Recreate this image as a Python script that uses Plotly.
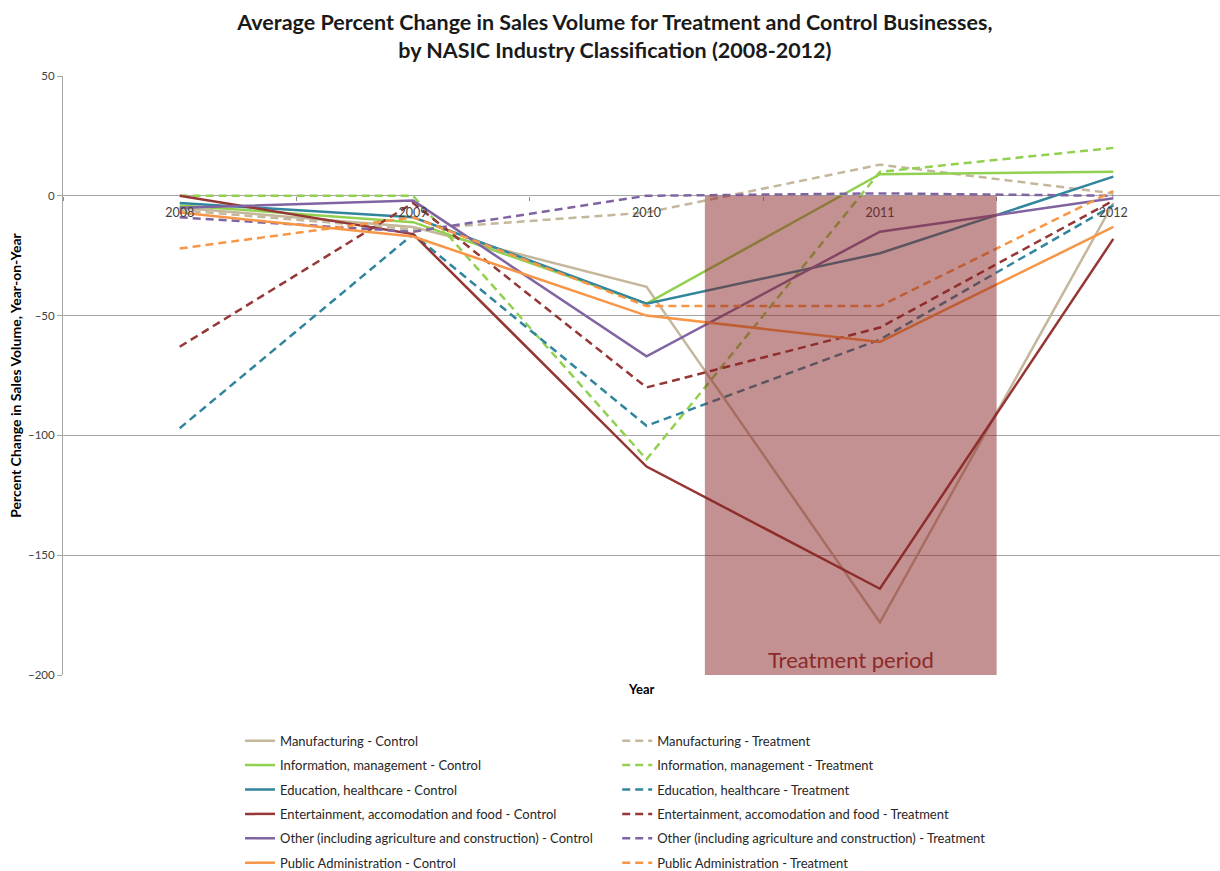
import plotly.graph_objects as go

years = ["2008", "2009", "2010", "2011", "2012"]

mfg_control = [-5, -13, -38, -178, -3]
mfg_treatment = [-6, -14, -7, 13, 1]
info_control = [-4, -11, -45, 9, 10]
info_treatment = [0, 0, -110, 10, 20]
edu_control = [-3, -9, -45, -24, 8]
edu_treatment = [-97, -16, -96, -60, -4]
ent_control = [0, -16, -113, -164, -18]
ent_treatment = [-63, -3, -80, -55, -2]
other_control = [-5, -2, -67, -15, -1]
other_treatment = [-9, -15, 0, 1, 0]
pub_control = [-7, -17, -50, -61, -13]
pub_treatment = [-22, -9, -46, -46, 2]

industries = [
    "Manufacturing",
    "Information, management",
    "Education, healthcare",
    "Entertainment, accomodation and food",
    "Other (including agriculture and construction)",
    "Public Administration",
]
control_series = [mfg_control, info_control, edu_control, ent_control, other_control, pub_control]
treatment_series = [mfg_treatment, info_treatment, edu_treatment, ent_treatment, other_treatment, pub_treatment]
colors = ["#C4B79C", "#92D050", "#31859C", "#953735", "#8064A2", "#F79646"]

treatment_window = [2.25, 3.5]
font = "Lato"

fig = go.Figure()
for i, name in enumerate(industries):
    fig.add_trace(go.Scatter(
        x=years, y=control_series[i], mode="lines", name=f"{name} - Control",
        line=dict(color=colors[i], width=2.5), legend="legend",
        legendgroup=f"c{i}"))
    fig.add_trace(go.Scatter(
        x=years, y=treatment_series[i], mode="lines", name=f"{name} - Treatment",
        line=dict(color=colors[i], width=2.5, dash="8px,5px"), legend="legend2",
        legendgroup=f"t{i}"))

fig.add_shape(type="rect", xref="x", yref="y",
              x0=treatment_window[0], x1=treatment_window[1], y0=-200, y1=0,
              fillcolor="rgba(135,35,35,0.5)", line=dict(width=0), layer="above")
fig.add_annotation(x=(treatment_window[0] + treatment_window[1]) / 2, y=-200,
                   xref="x", yref="y", text="Treatment period", showarrow=False,
                   yanchor="bottom", yshift=0,
                   font=dict(family=font, size=22, color="#8C2A2A"))

fig.add_annotation(x=0.5, y=-200, xref="paper", yref="y", text="<b>Year</b>",
                   showarrow=False, yanchor="top", yshift=-4, xshift=-1,
                   font=dict(family=font, size=13, color="#000000"))

fig.update_layout(
    width=1220, height=871,
    margin=dict(l=63, r=0, t=76, b=196, autoexpand=False),
    paper_bgcolor="white", plot_bgcolor="white",
    title=dict(
        text="<b>Average Percent Change in Sales Volume for Treatment and Control Businesses,<br>by NASIC Industry Classification (2008-2012)</b>",
        x=0.504, xanchor="center", xref="container", yref="container", y=0.966, yanchor="top",
        font=dict(family=font, size=21.5, color="#1a1a1a")),
    font=dict(family=font, size=12, color="#404040"),
    xaxis=dict(
        type="category", range=[-0.5, 4.457], anchor="free", position=0.8,
        showline=False, showgrid=False, zeroline=False,
        ticks="outside", tickson="boundaries", ticklen=4, tickcolor="#8c8c8c",
        ticklabelstandoff=8,
        tickfont=dict(family=font, size=12.5, color="#404040")),
    yaxis=dict(
        range=[-200, 50], dtick=50, showgrid=True, gridcolor="#A6A6A6", gridwidth=1,
        zeroline=False, showline=True, linecolor="#A6A6A6", linewidth=1,
        ticks="outside", ticklen=5, tickcolor="#A6A6A6",
        tickfont=dict(family=font, size=11.5, color="#404040"),
        title=dict(text="<b>Percent Change in Sales Volume, Year-on-Year</b>",
                   font=dict(family=font, size=14, color="#000000"), standoff=3)),
    legend=dict(x=0.153, y=-0.0847, xanchor="left", yanchor="top",
                orientation="v", tracegroupgap=4.5,
                font=dict(family=font, size=13, color="#262626"),
                bgcolor="rgba(0,0,0,0)"),
    legend2=dict(x=0.479, y=-0.0847, xanchor="left", yanchor="top",
                 orientation="v", tracegroupgap=4.5,
                 font=dict(family=font, size=13, color="#262626"),
                 bgcolor="rgba(0,0,0,0)"),
)

fig.write_html("out.html")
